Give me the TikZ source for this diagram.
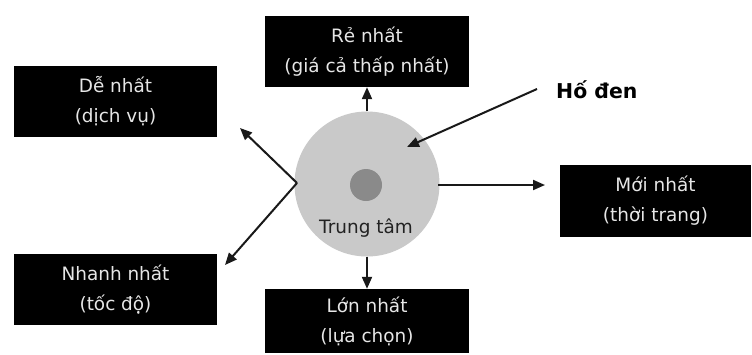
\documentclass[tikz,border=0pt]{standalone}
\usepackage{fontspec}
\setmainfont{DejaVu Sans}
\usetikzlibrary{arrows.meta}
\definecolor{boxtext}{HTML}{E6E6E6}
\definecolor{discgray}{HTML}{C9C9C9}
\definecolor{coregray}{HTML}{8A8A8A}
\definecolor{centertext}{HTML}{222222}
\tikzset{
  blackbox/.style={rectangle, fill=black, text=boxtext, align=center,
    minimum width=203bp, minimum height=71bp, inner sep=0pt,
    font=\fontsize{18.5}{30}\selectfont},
  conn/.style={line width=2bp, -{Triangle[length=12bp,width=10bp]}, draw=black!90}
}
\begin{document}
\begin{tikzpicture}[x=1bp,y=-1bp]
\useasboundingbox (0,0) rectangle (752,354);
\fill[white] (0,0) rectangle (752,354);
% center disc
\node[circle, fill=discgray, minimum size=145bp, inner sep=0pt] (c) at (367,184) {};
\node[circle, fill=coregray, minimum size=32bp, inner sep=0pt] (core) at (366,185) {};
\node[text=centertext, font=\fontsize{18.5}{20}\selectfont] (ct) at (366,228) {Trung tâm};
% boxes
\node[blackbox] (de) at (115.5,101.5) {Dễ nhất\\(dịch vụ)};
\node[blackbox, minimum width=204bp] (re) at (367,51.5) {Rẻ nhất\\(giá cả thấp nhất)};
\node[blackbox, minimum width=191bp, minimum height=72bp] (moi) at (655.5,201) {Mới nhất\\(thời trang)};
\node[blackbox] (nhanh) at (115.5,289.5) {Nhanh nhất\\(tốc độ)};
\node[blackbox, minimum width=204bp, minimum height=64bp] (lon) at (367,321) {Lớn nhất\\(lựa chọn)};
% label
\node[font=\bfseries\fontsize{20.5}{24}\selectfont, anchor=west, inner sep=0pt] (hd) at (556,90) {Hố đen};
% connector coordinates
\coordinate (j) at (297,183);
\coordinate (dtip) at (240,128);
\coordinate (ntip) at (225,265);
\coordinate (mtip) at (545,185);
\coordinate (mstart) at (438,185);
\coordinate (hstart) at (537,89);
\coordinate (htip) at (407,147);
% connectors
\draw[conn] (c.north) -- (re.south);
\draw[conn] (c.south) -- (lon.north);
\draw[conn] (mstart) -- (mtip);
\draw[conn] (j) -- (dtip);
\draw[conn] (j) -- (ntip);
\draw[conn] (hstart) -- (htip);
\end{tikzpicture}
\end{document}
